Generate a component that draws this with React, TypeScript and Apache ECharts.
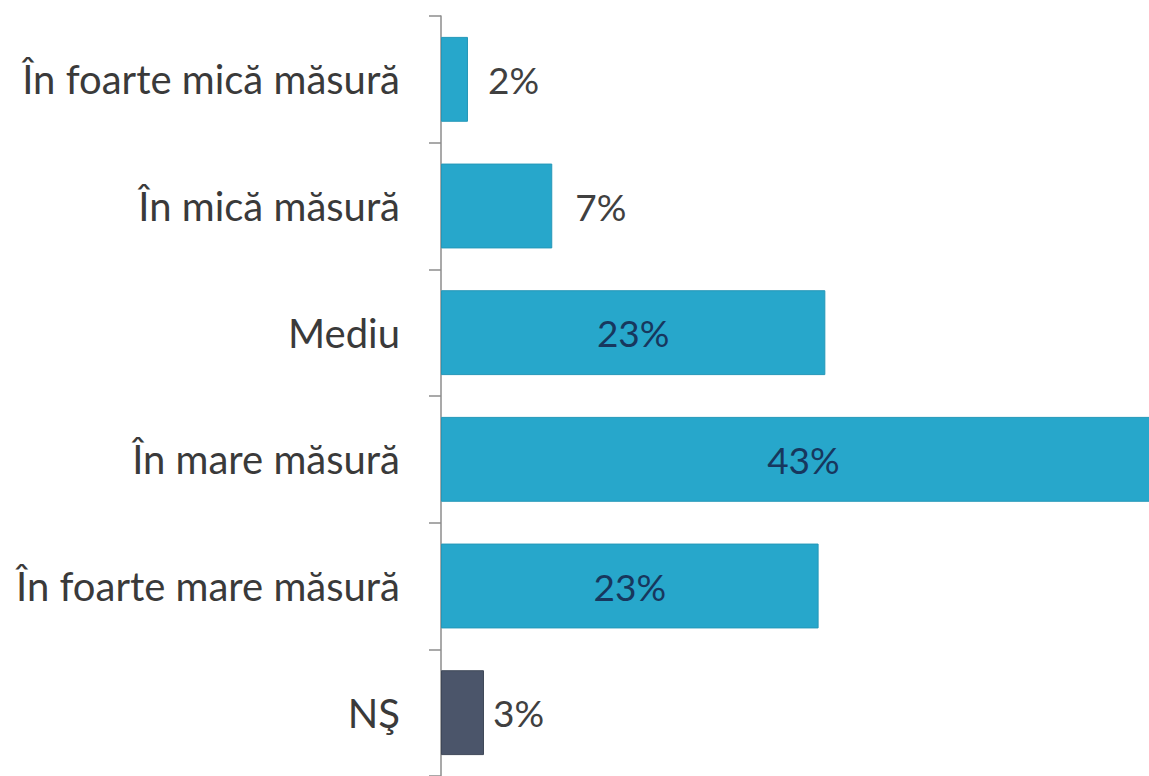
import React, { useEffect, useRef } from "react";
import * as echarts from "echarts";

const categories = [
  "În foarte mică măsură",
  "În mică măsură",
  "Mediu",
  "În mare măsură",
  "În foarte mare măsură",
  "NŞ",
];
const values = [1.6, 6.6, 22.8, 43, 22.4, 2.55];
const valueLabels = ["2%", "7%", "23%", "43%", "23%", "3%"];
const labelInside = [false, false, true, true, true, false];
const labelDistance = [20, 23, 0, 0, 0, 9];
const barColors = ["#27A7CB", "#27A7CB", "#27A7CB", "#27A7CB", "#27A7CB", "#4B556A"];
const xMax = 42;

const FONT = "Lato, 'Noto Sans', sans-serif";

export default function App() {
  const ref = useRef<HTMLDivElement>(null);
  useEffect(() => {
    document.body.style.margin = "0";
    const chart = echarts.init(ref.current!, null, { renderer: "svg" });
    chart.setOption({
      animation: false,
      grid: { left: 441, right: 0, top: 16, bottom: -8, containLabel: false },
      xAxis: { type: "value", min: 0, max: xMax, show: false },
      yAxis: {
        type: "category",
        inverse: true,
        data: categories,
        axisLine: { show: true, lineStyle: { color: "#8C8C8C", width: 1.5 } },
        axisTick: { show: true, length: 12, lineStyle: { color: "#8C8C8C", width: 1.5 } },
        axisLabel: { fontSize: 40, color: "#3A3A3A", fontFamily: FONT, margin: 41 },
      },
      series: [
        {
          type: "bar",
          clip: false,
          barCategoryGap: "33%",
          data: values.map((v, i) => ({
            value: v,
            itemStyle: { color: barColors[i], borderColor: i === 5 ? "#3F4859" : "#2497B8", borderWidth: 1 },
            label: {
              show: true,
              position: labelInside[i] ? "inside" : "right",
              distance: labelDistance[i],
              formatter: valueLabels[i],
              fontSize: 37,
              fontFamily: FONT,
              color: labelInside[i] ? "#17375E" : "#404040",
            },
          })),
        },
      ],
    });
    return () => chart.dispose();
  }, []);
  return <div ref={ref} style={{ width: 1149, height: 776, overflow: "hidden" }} />;
}
